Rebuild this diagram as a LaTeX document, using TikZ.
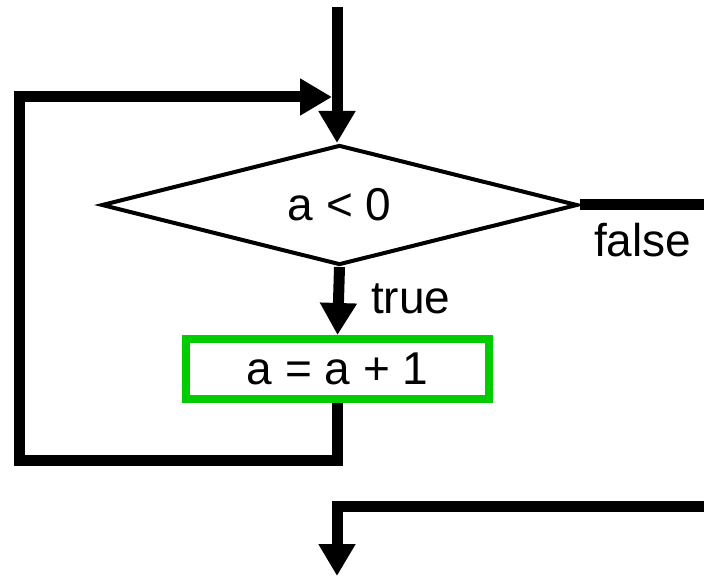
\documentclass[tikz,border=0pt]{standalone}
\usepackage{fontspec}
\setmainfont{Liberation Sans}
\usetikzlibrary{shapes.geometric,arrows.meta}
\definecolor{boxgreen}{RGB}{0,204,0}
\begin{document}
\begin{tikzpicture}[x=1pt,y=-1pt,
  flow/.style={line width=11pt,-{Triangle[width=35pt,length=32pt]}},
  plain/.style={line width=11pt},
  lbl/.style={font=\fontsize{46}{50}\selectfont,inner sep=0pt},
  test/.style={draw,diamond,aspect=4,line width=4pt,inner sep=0pt,minimum width=476pt,minimum height=120pt,font=\fontsize{46}{50}\selectfont},
  action/.style={draw=boxgreen,line width=8pt,rectangle,inner sep=0pt,minimum width=303pt,minimum height=60pt,font=\fontsize{46}{50}\selectfont}]
\useasboundingbox (0,0) rectangle (704,577);
\node[test] (d) at (339.5,205) {a < 0};
\node[action] (b) at (337.5,369) {a = a + 1};
\coordinate (top) at (337,7);
\coordinate (join) at (332,97);
\coordinate (fend) at (704,205);
\coordinate (bstart) at (704,506);
\coordinate (bend) at (337,576);
\node[lbl,anchor=base west] (t) at (371,313) {true};
\node[lbl,anchor=base west] (f) at (594,257) {false};
\draw[flow] (top) -- (top |- d.north);
\draw[plain] (d.east) -- (fend);
\draw[flow] (d.south) -- (b.north);
\draw[flow] (b.south) -- (b.south |- 0,460) -- (19,460) -- (19,97) -- (join);
\draw[flow] (bstart) -- (bend |- bstart) -- (bend);
\end{tikzpicture}
\end{document}
